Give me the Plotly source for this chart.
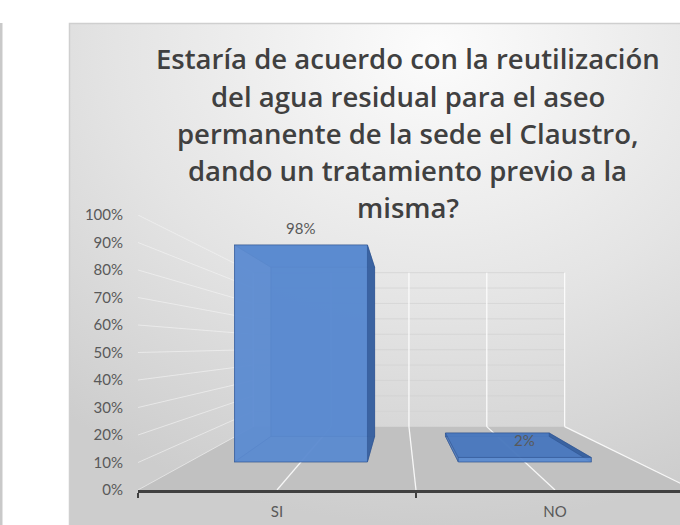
import base64
import plotly.graph_objects as go

# ---------------- data ----------------
CATEGORIES = ["SI", "NO"]
VALUES = [0.98, 0.02]
VALUE_LABELS = ["98%", "2%"]
Y_TICKS = [0.0, 0.1, 0.2, 0.3, 0.4, 0.5, 0.6, 0.7, 0.8, 0.9, 1.0]
Y_TICK_LABELS = ["0%", "10%", "20%", "30%", "40%", "50%", "60%", "70%", "80%", "90%", "100%"]
TITLE_LINES = [
    "Estaría de acuerdo con la reutilización",
    "del agua residual para el aseo",
    "permanente de la sede el Claustro,",
    "dando un tratamiento previo a la",
    "misma?",
]

# ---------------- layout geometry ----------------
W, H = 680, 525
L, R, T, B = 138, 0, 215, 35
PW = W - L - R
PH = H - T - B
CAT_PX = 278.0
X_RANGE = [-0.5, -0.5 + PW / CAT_PX]

FONT = "Lato"
TITLE_FONT = "Open Sans"
TXT = "#595959"


def px_x(p):
    return (p - L) / PW


def px_y(p):
    return (H - B - p) / PH


# perspective (front plane = visible axes coordinates)
VP = (0.4424, 0.5236)
S_BAR_FRONT = 0.805
S_BAR_BACK = 0.628
S_WALL = 0.56
HALF_W = 0.297
X_LEFT, X_RIGHT = -0.5, len(CATEGORIES) - 0.5


def proj(x, y, s):
    return (x * s + VP[0] * (1 - s), y * s + VP[1] * (1 - s))


fig = go.Figure()

# invisible trace to set up the category axis
fig.add_trace(go.Scatter(x=CATEGORIES, y=VALUES, mode="markers",
                         marker=dict(opacity=0), hoverinfo="skip", showlegend=False))


def poly(points, fill, line="rgba(0,0,0,0)", width=0):
    xs = [p[0] for p in points] + [points[0][0]]
    ys = [p[1] for p in points] + [points[0][1]]
    fig.add_trace(go.Scatter(x=xs, y=ys, xaxis="x2", yaxis="y", mode="lines",
                             fill="toself", fillcolor=fill,
                             line=dict(color=line, width=width),
                             hoverinfo="skip", showlegend=False))


def lines(segs, color, width=1):
    xs, ys = [], []
    for a, b in segs:
        xs += [a[0], b[0], None]
        ys += [a[1], b[1], None]
    fig.add_trace(go.Scatter(x=xs, y=ys, xaxis="x2", yaxis="y", mode="lines",
                             line=dict(color=color, width=width),
                             hoverinfo="skip", showlegend=False))


# floor
poly([proj(X_LEFT, 0, 1), proj(X_RIGHT, 0, 1), proj(X_RIGHT, 0, S_WALL), proj(X_LEFT, 0, S_WALL)],
     "#c1c1c1")

# side-wall and back-wall horizontal gridlines
side = [(proj(X_LEFT, t, 1), proj(X_LEFT, t, S_WALL)) for t in Y_TICKS]
lines(side, "rgba(245,245,245,0.6)", 1)
back_h = [(proj(X_LEFT, t, S_WALL), proj(X_RIGHT, t, S_WALL)) for t in Y_TICKS[1:]]
lines(back_h, "rgba(210,210,210,0.7)", 1)

# floor and back-wall vertical lines at category centres / boundaries
xs_v = [X_LEFT + k * 0.5 for k in range(2 * len(CATEGORIES) + 1)]
floor_l = [(proj(x, 0, 1), proj(x, 0, S_WALL)) for x in xs_v[1:]]
wall_v = [(proj(x, 0, S_WALL), proj(x, Y_TICKS[-1], S_WALL)) for x in xs_v]
lines(floor_l, "rgba(250,250,250,0.95)", 1.3)
lines(wall_v, "rgba(252,252,252,0.95)", 1.3)

# bars
EDGE = "rgba(40,78,140,0.45)"
for i, v in enumerate(VALUES):
    x0, x1 = i - HALF_W, i + HALF_W
    F = lambda x, y: proj(x, y, S_BAR_FRONT)
    K = lambda x, y: proj(x, y, S_BAR_BACK)
    poly([K(x0, 0), K(x1, 0), K(x1, v), K(x0, v)], "rgba(80,125,195,0.9)", EDGE, 1)
    poly([F(x0, 0), K(x0, 0), K(x0, v), F(x0, v)], "rgba(80,125,195,0.6)", EDGE, 1)
    poly([F(x0, 0), F(x1, 0), K(x1, 0), K(x0, 0)], "rgba(70,115,185,0.6)", EDGE, 1)
    poly([F(x0, v), F(x1, v), K(x1, v), K(x0, v)], "rgba(74,120,190,0.92)", EDGE, 1)
    poly([F(x1, 0), K(x1, 0), K(x1, v), F(x1, v)], "rgba(58,98,160,0.97)", EDGE, 1)
    poly([F(x0, 0), F(x1, 0), F(x1, v), F(x0, v)], "rgba(92,140,210,0.88)", EDGE, 1)

# data labels
annotations = []
for i, (v, lab) in enumerate(zip(VALUES, VALUE_LABELS)):
    ax, ay = proj(i, v, S_BAR_FRONT)
    annotations.append(dict(x=ax, y=ay, xref="x2", yref="y", text=lab, showarrow=False,
                            yshift=17, font=dict(family=FONT, size=15, color=TXT)))

# title lines
TITLE_BASELINES = [69, 106, 143, 180, 217]
for line, base in zip(TITLE_LINES, TITLE_BASELINES):
    annotations.append(dict(x=px_x(407.5), y=px_y(base - 10), xref="paper", yref="paper",
                            text=line, showarrow=False, xanchor="center",
                            yanchor="middle",
                            font=dict(family=TITLE_FONT, size=27.5, weight=600,
                                      color="#404040")))

# background gradient
gw, gh = 611, 502
svg = ('<svg xmlns="http://www.w3.org/2000/svg" width="%d" height="%d" viewBox="0 0 %d %d" '
       'preserveAspectRatio="none"><defs><radialGradient id="g" cx="0.6" cy="0.05" r="0.95" '
       'fx="0.6" fy="0.05"><stop offset="0" stop-color="#fcfcfc"/>'
       '<stop offset="0.55" stop-color="#e4e4e4"/><stop offset="1" stop-color="#cdcdcd"/>'
       '</radialGradient></defs><rect width="%d" height="%d" fill="url(#g)"/></svg>'
       % (gw, gh, gw, gh, gw, gh))
src = "data:image/svg+xml;base64," + base64.b64encode(svg.encode()).decode()

fig.update_layout(
    width=W, height=H,
    margin=dict(l=L, r=R, t=T, b=B, pad=0),
    paper_bgcolor="white",
    plot_bgcolor="rgba(0,0,0,0)",
    showlegend=False,
    annotations=annotations,
    images=[dict(source=src, xref="paper", yref="paper", x=px_x(69), y=px_y(23),
                 sizex=(W - 69) / PW, sizey=(H - 23) / PH, sizing="stretch",
                 xanchor="left", yanchor="top", layer="below")],
    shapes=[
        dict(type="rect", xref="paper", yref="paper", x0=px_x(69.5), x1=px_x(720),
             y0=px_y(560), y1=px_y(23.5), line=dict(color="#cfcfcf", width=1.5),
             fillcolor="rgba(0,0,0,0)", layer="below"),
        dict(type="rect", xref="paper", yref="paper", x0=px_x(-3), x1=px_x(2.5),
             y0=px_y(560), y1=px_y(23), line=dict(width=0), fillcolor="#c9c9c9",
             layer="below"),
    ],
    xaxis=dict(type="category", categoryarray=CATEGORIES, categoryorder="array",
               range=X_RANGE, tickson="boundaries", ticks="outside", ticklen=5,
               tickwidth=2, tickcolor="#404040", showline=True, linecolor="#404040",
               linewidth=2.5, showgrid=False, zeroline=False, ticklabelstandoff=6,
               tickfont=dict(family=FONT, size=15, color=TXT), fixedrange=True),
    xaxis2=dict(overlaying="x", range=X_RANGE, visible=False, fixedrange=True),
    yaxis=dict(range=[0, 1], tickvals=Y_TICKS, ticktext=Y_TICK_LABELS, showgrid=False,
               zeroline=False, showline=False, ticks="", ticklabelstandoff=14,
               tickfont=dict(family=FONT, size=15, color=TXT), fixedrange=True),
)

fig.write_html("out.html", config={"displayModeBar": False},
               post_script="document.body.style.margin='0';")
